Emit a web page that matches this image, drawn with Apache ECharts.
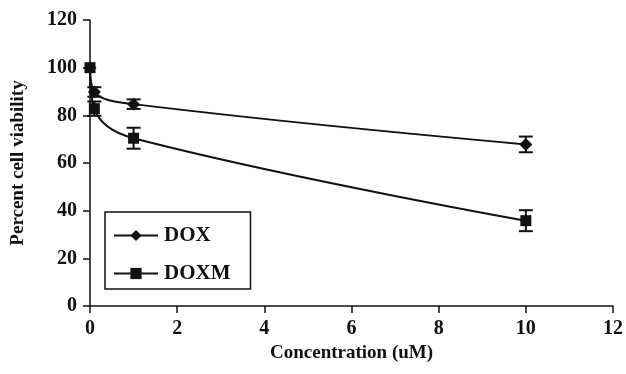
<!DOCTYPE html>
<html><head><meta charset="utf-8">
<script src="https://cdn.jsdelivr.net/npm/echarts@6/dist/echarts.min.js"></script>
<style>html,body{margin:0;padding:0;background:#fff}#c{width:626px;height:374px}</style>
</head><body><div id="c"></div>
<script>
var concentrations = [0, 0.1, 1, 10];
var doxValues = [100, 89.8, 84.7, 67.8];
var doxErrors = [0, 2, 2, 3.3];
var doxmValues = [100, 82.8, 70.4, 35.8];
var doxmErrors = [0, 3, 4.4, 4.4];
var xTicks = [0, 2, 4, 6, 8, 10, 12];
var yTicks = [0, 20, 40, 60, 80, 100, 120];

var FONT = '"Liberation Serif", "Times New Roman", serif';
var INK = '#111';

function pairs(xs, ys) { return xs.map(function (x, i) { return [x, ys[i]]; }); }
function errs(xs, ys, es) {
  var out = [];
  xs.forEach(function (x, i) { if (es[i] > 0) out.push([x, ys[i] - es[i], ys[i] + es[i]]); });
  return out;
}
function errRender(params, api) {
  var x = api.value(0), lo = api.value(1), hi = api.value(2);
  var pLo = api.coord([x, lo]), pHi = api.coord([x, hi]);
  var hw = 7;
  var st = { stroke: INK, lineWidth: 2 };
  return { type: 'group', children: [
    { type: 'line', shape: { x1: pLo[0], y1: pLo[1], x2: pHi[0], y2: pHi[1] }, style: st },
    { type: 'line', shape: { x1: pLo[0] - hw, y1: pLo[1], x2: pLo[0] + hw, y2: pLo[1] }, style: st },
    { type: 'line', shape: { x1: pHi[0] - hw, y1: pHi[1], x2: pHi[0] + hw, y2: pHi[1] }, style: st }
  ]};
}

var chart = echarts.init(document.getElementById('c'), null, { renderer: 'canvas' });
chart.setOption({
  animation: false,
  backgroundColor: '#fff',
  grid: { left: 90, right: 12, top: 20, bottom: 68 },
  legend: {
    orient: 'vertical', left: 105, top: 212,
    data: ['DOX', 'DOXM'],
    itemWidth: 44, itemHeight: 14, itemGap: 17,
    padding: [13, 20, 5, 8],
    borderColor: INK, borderWidth: 1.5,
    textStyle: { fontFamily: FONT, fontWeight: 'bold', fontSize: 21, color: INK, padding: [0, 0, 0, 1] },
    itemStyle: { color: INK }
  },
  xAxis: {
    type: 'value', min: xTicks[0], max: xTicks[xTicks.length - 1], interval: 2,
    name: 'Concentration (uM)', nameLocation: 'middle', nameGap: 36,
    nameTextStyle: { fontFamily: FONT, fontWeight: 'bold', fontSize: 19, color: INK },
    axisLine: { lineStyle: { color: INK, width: 1.5 } },
    axisTick: { show: true, length: 7, lineStyle: { color: INK, width: 1.5 } },
    axisLabel: { margin: 13, fontFamily: FONT, fontWeight: 'bold', fontSize: 20, color: INK },
    splitLine: { show: false }
  },
  yAxis: {
    type: 'value', min: yTicks[0], max: yTicks[yTicks.length - 1], interval: 20,
    name: 'Percent cell viability', nameLocation: 'middle', nameGap: 62,
    nameTextStyle: { fontFamily: FONT, fontWeight: 'bold', fontSize: 19, color: INK },
    axisLine: { show: true, lineStyle: { color: INK, width: 1.5 } },
    axisTick: { show: true, length: 7, lineStyle: { color: INK, width: 1.5 } },
    axisLabel: { margin: 13, fontFamily: FONT, fontWeight: 'bold', fontSize: 20, color: INK },
    splitLine: { show: false }
  },
  series: [
    { name: 'DOX', type: 'line', data: pairs(concentrations, doxValues), smooth: 0.4,
      symbol: 'diamond', symbolSize: 13, lineStyle: { color: INK, width: 2 },
      itemStyle: { color: INK }, z: 3 },
    { name: 'DOXM', type: 'line', data: pairs(concentrations, doxmValues), smooth: 0.4,
      symbol: 'rect', symbolSize: 11, lineStyle: { color: INK, width: 2 },
      itemStyle: { color: INK }, z: 3 },
    { name: 'doxErr', type: 'custom', renderItem: errRender,
      data: errs(concentrations, doxValues, doxErrors), encode: { x: 0, y: [1, 2] }, z: 4 },
    { name: 'doxmErr', type: 'custom', renderItem: errRender,
      data: errs(concentrations, doxmValues, doxmErrors), encode: { x: 0, y: [1, 2] }, z: 4 }
  ]
});
</script></body></html>
